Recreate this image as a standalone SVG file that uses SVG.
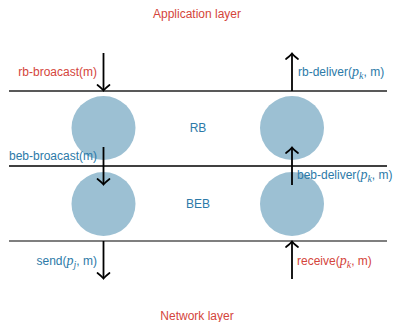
<svg xmlns="http://www.w3.org/2000/svg" width="397" height="322" viewBox="0 0 397 322">
<style>
text{font-family:"Liberation Sans","DejaVu Sans",sans-serif;font-size:12px}
.red{fill:#d4453b}
.blue{fill:#2c7aa8}
.node{fill:#9cc0d3}
.layer{stroke-width:1.3;fill:none}
.arr{stroke:#000;stroke-width:1.8;fill:none;marker-end:url(#hd)}
.m{font-family:"Liberation Serif","DejaVu Serif",serif;font-style:italic;font-size:14px}
.s{font-family:"Liberation Serif","DejaVu Serif",serif;font-style:italic;font-size:10px}
</style>
<defs>
<marker id="hd" markerUnits="userSpaceOnUse" viewBox="-7 -7 9 14" refX="0" refY="0" markerWidth="9" markerHeight="14" orient="auto" overflow="visible">
<path d="M-5,-6 Q-1.5,-1.5 0.6,0 Q-1.5,1.5 -5,6" fill="none" stroke="#000" stroke-width="1.7" stroke-linecap="round"/>
</marker>
</defs>
<text class="red" x="197" y="18" text-anchor="middle">Application layer</text>
<text class="red" x="197" y="320" text-anchor="middle">Network layer</text>
<g id="layers">
<line class="layer" x1="9" y1="91" x2="387" y2="91" stroke="#222"/>
<line class="layer" x1="9" y1="166" x2="387" y2="166" stroke="#000"/>
<line class="layer" x1="9" y1="241" x2="387" y2="241" stroke="#555"/>
</g>
<g id="rb-left"><circle class="node" cx="103.5" cy="128" r="32"/></g>
<g id="rb-right"><circle class="node" cx="292" cy="128" r="32"/></g>
<g id="beb-left"><circle class="node" cx="103.5" cy="204" r="32"/></g>
<g id="beb-right"><circle class="node" cx="292" cy="204" r="32"/></g>
<text class="blue" x="198" y="132" text-anchor="middle">RB</text>
<text class="blue" x="198" y="208" text-anchor="middle">BEB</text>
<g id="connectors">
<line class="arr" x1="103.5" y1="53" x2="103.5" y2="90"/>
<line class="arr" x1="292" y1="91" x2="292" y2="54"/>
<line class="arr" x1="103.5" y1="147" x2="103.5" y2="184"/>
<line class="arr" x1="292" y1="185" x2="292" y2="148"/>
<line class="arr" x1="103.5" y1="241" x2="103.5" y2="278"/>
<line class="arr" x1="292" y1="279" x2="292" y2="242"/>
</g>
<g id="labels">
<text class="red" x="97" y="76" text-anchor="end">rb-broacast(m)</text>
<text class="blue" x="298" y="76">rb-deliver(<tspan class="m">p</tspan><tspan class="s" dy="2.5">k</tspan><tspan dy="-2.5">, m)</tspan></text>
<text class="blue" x="97" y="160" text-anchor="end">beb-broacast(m)</text>
<text class="blue" x="297" y="179">beb-deliver(<tspan class="m">p</tspan><tspan class="s" dy="2.5">k</tspan><tspan dy="-2.5">, m)</tspan></text>
<text class="blue" x="97" y="265" text-anchor="end">send(<tspan class="m">p</tspan><tspan class="s" dy="2.5">j</tspan><tspan dy="-2.5">, m)</tspan></text>
<text class="red" x="297" y="265">receive(<tspan class="m">p</tspan><tspan class="s" dy="2.5">k</tspan><tspan dy="-2.5">, m)</tspan></text>
</g>
</svg>
